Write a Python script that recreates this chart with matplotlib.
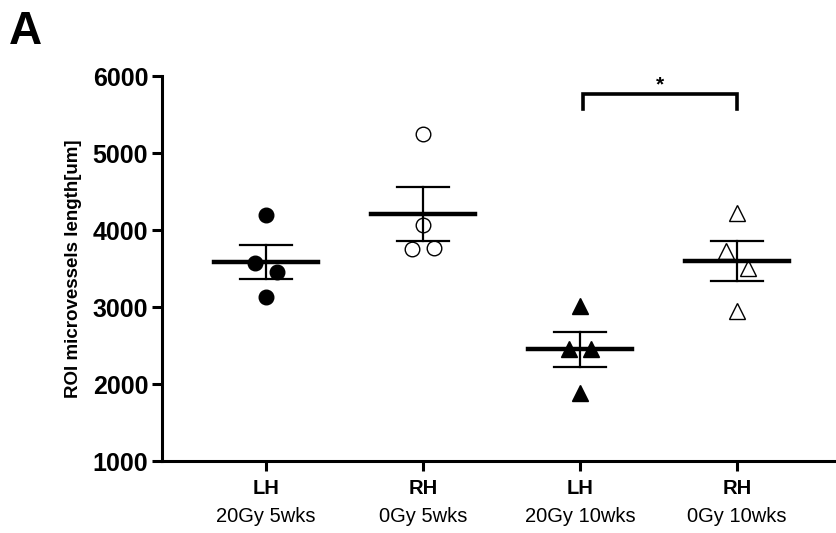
import matplotlib
matplotlib.use("Agg")
import matplotlib.pyplot as plt
import numpy as np

plt.rcParams['font.family'] = ['Liberation Sans', 'DejaVu Sans']

# values (order: top, left, right, bottom)
groups = ["LH", "RH", "LH", "RH"]
conditions = ["20Gy 5wks", "0Gy 5wks", "20Gy 10wks", "0Gy 10wks"]
lh_5wks = [4195, 3571, 3455, 3130]
rh_5wks = [5247, 3753, 3766, 4065]
lh_10wks = [3020, 2450, 2450, 1880]
rh_10wks = [4221, 3727, 3506, 2948]
offsets = [0.0, -0.07, 0.07, 0.0]   # horizontal jitter of the 4 points

series = [lh_5wks, rh_5wks, lh_10wks, rh_10wks]
markers = ["o", "o", "^", "^"]
msizes = [10.5, 10.5, 11.5, 11.5]
fills = ["black", "white", "black", "white"]

fig = plt.figure(figsize=(8.36, 5.33), dpi=100)
ax = fig.add_axes([0.194, 0.135, 0.806, 0.722])

for i, vals in enumerate(series):
    x = i + 1
    vals = np.array(vals, dtype=float)
    mean = vals.mean()
    sem = vals.std(ddof=1) / np.sqrt(len(vals))
    ax.plot(x + np.array(offsets), vals, linestyle="none", marker=markers[i],
            markersize=msizes[i], markerfacecolor=fills[i], markeredgecolor="black",
            markeredgewidth=1.0, zorder=3)
    ax.plot([x - 0.33, x + 0.33], [mean, mean], color="black", lw=3.2, zorder=4)
    ax.plot([x, x], [mean - sem, mean + sem], color="black", lw=1.6, zorder=4)
    ax.plot([x - 0.165, x + 0.165], [mean + sem] * 2, color="black", lw=1.6, zorder=4)
    ax.plot([x - 0.165, x + 0.165], [mean - sem] * 2, color="black", lw=1.6, zorder=4)

# significance bracket
ax.plot([3.02, 3.02, 4.0, 4.0], [5580, 5770, 5770, 5580], color="black", lw=2.6,
        solid_joinstyle="miter", clip_on=False)
ax.text(3.51, 5890, "*", ha="center", va="center", fontsize=15, fontweight="bold")

ax.set_xlim(0.338, 4.63)
ax.set_ylim(1000, 6000)
ax.set_yticks([1000, 2000, 3000, 4000, 5000, 6000])
ax.set_xticks([1, 2, 3, 4])
ax.set_xticklabels([""] * 4)
tr = ax.get_xaxis_transform()
for i in range(4):
    ax.text(i + 1, -0.072, groups[i], ha="center", va="center", fontsize=14.5,
            fontweight="bold", transform=tr)
    ax.text(i + 1, -0.143, conditions[i], ha="center", va="center", fontsize=14.5,
            transform=tr)

for lbl in ax.get_yticklabels():
    lbl.set_fontweight("bold")
ax.tick_params(axis="y", labelsize=18, width=2.2, length=7, pad=3)
ax.tick_params(axis="x", width=2.2, length=7)

ax.spines["top"].set_visible(False)
ax.spines["right"].set_visible(False)
ax.spines["left"].set_linewidth(2.2)
ax.spines["bottom"].set_linewidth(2.2)

ax.set_ylabel("ROI microvessels length[um]", fontsize=13.5, fontweight="bold", labelpad=8)

fig.text(0.010, 0.918, "A", fontsize=33, fontweight="bold")

fig.savefig("out.png", dpi=100)
